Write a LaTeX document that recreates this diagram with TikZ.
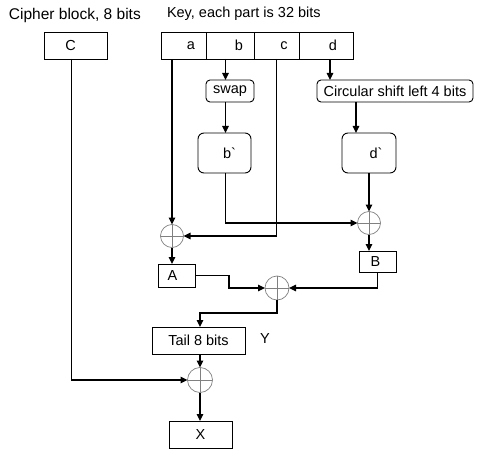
\documentclass[tikz,border=0pt]{standalone}
\usepackage{fontspec}
\setmainfont{Liberation Sans}
\newfontfamily\rawfont{Liberation Sans}
\usetikzlibrary{arrows.meta}
\begin{document}
\begin{tikzpicture}[x=1pt,y=-1pt,
  every node/.style={inner sep=0pt, outer sep=0pt, font=\fontsize{14.5}{16}\selectfont},
  sqbox/.style={draw, line width=0.9pt, rectangle},
  rbox/.style={draw, line width=0.9pt, rectangle, rounded corners=4pt},
  xorn/.style={draw=black!50, line width=0.7pt, circle, minimum size=#1,
    path picture={\draw[black!50, line width=0.7pt]
      (path picture bounding box.north) -- (path picture bounding box.south)
      (path picture bounding box.west) -- (path picture bounding box.east);}},
  wire/.style={line width=1.2pt},
  arr/.style={wire, -{Triangle[length=7pt,width=6.5pt]}}
]
\useasboundingbox (0,0) rectangle (484,457);
% titles
\node[anchor=west, font=\fontsize{15.5}{17}\selectfont] (t1) at (9,15) {Cipher block, 8 bits};
\node[anchor=west] (t2) at (167,14) {Key, each part is 32 bits};
% C box
\node[sqbox, minimum width=63pt, minimum height=27pt, label={[xshift=-5pt]center:C}] (C) at (75.5,45.5) {};
% key cells
\node[sqbox, minimum width=45pt, minimum height=27pt, label={[xshift=7.5pt]center:a}] (ka) at (183.5,45.5) {};
\node[sqbox, minimum width=48pt, minimum height=27pt, label={[xshift=9pt]center:b}] (kb) at (230,45.5) {};
\node[sqbox, minimum width=45pt, minimum height=27pt, label={[xshift=7.5pt]center:c}] (kc) at (276.5,45.5) {};
\node[sqbox, minimum width=54pt, minimum height=27pt, label={[xshift=7pt]center:d}] (kd) at (326,45.5) {};
% transforms
\node[rbox, minimum width=48pt, minimum height=22pt] (swap) at (230,91) {swap};
\node[rbox, minimum width=156pt, minimum height=22pt] (circ) at (395,91) {Circular shift left 4 bits};
\node[rbox, rounded corners=6pt, minimum width=53pt, minimum height=40pt, label={[xshift=5pt]center:{\rawfont b`}}] (bp) at (224.5,153) {};
\node[rbox, rounded corners=6pt, minimum width=54pt, minimum height=40pt, label={[xshift=7pt]center:{\rawfont d`}}] (dp) at (369,153) {};
% xors
\node[xorn=23pt] (p1) at (172,236) {};
\node[xorn=23pt] (p2) at (369,223) {};
\node[xorn=24pt] (p3) at (277,288) {};
\node[xorn=25pt] (p4) at (200,380) {};
% boxes A B
\node[sqbox, minimum width=37pt, minimum height=23pt, label={[xshift=-4pt]center:A}] (A) at (176.5,275.5) {};
\node[sqbox, minimum width=37pt, minimum height=21pt, label={[xshift=-2pt]center:B}] (B) at (377.5,261.5) {};
\node[sqbox, minimum width=93pt, minimum height=27pt] (tail) at (198.5,340.5) {Tail 8 bits};
\node (Y) at (265,339) {Y};
\node[sqbox, minimum width=63pt, minimum height=27pt] (X) at (200.5,434.5) {X};
% helper x positions
\coordinate (xa) at (172,0);
\coordinate (xb) at (225.5,0);
\coordinate (xd) at (330,0);
\coordinate (xdd) at (356,0);
% connectors
\draw[arr] (ka.south -| xa) -- (p1.north);
\draw[arr] (kb.south -| xb) -- (swap.north -| xb);
\draw[arr] (swap.south -| xb) -- (bp.north -| xb);
\draw[arr] (kc.south) |- (p1.east);
\draw[arr] (kd.south -| xd) -- (circ.north -| xd);
\draw[arr] (circ.south -| xdd) -- (dp.north -| xdd);
\draw[arr] (dp.south) -- (p2.north);
\draw[arr] (bp.south -| xb) |- (p2.west);
\draw[arr] (p2.south) -- (p2.south |- B.north);
\draw[arr] (p1.south) -- (p1.south |- A.north);
\draw[arr] (A.east) -- ++(34,0) |- (p3.west);
\draw[arr] (B.south) |- (p3.east);
\draw[arr] (p3.south) -- ++(0,13) -| ([xshift=1.5pt]tail.north);
\draw[arr] (tail.south -| p4) -- (p4.north);
\draw[arr] ([xshift=-4pt]C.south) |- (p4.west);
\draw[arr] (p4.south) -- (X.north -| p4);
\end{tikzpicture}
\end{document}
